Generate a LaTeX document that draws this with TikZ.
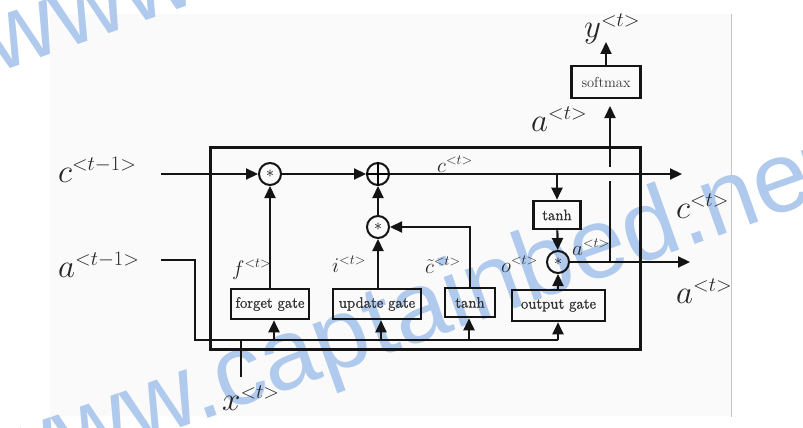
\RequirePackage{fix-cm}
\documentclass[tikz,border=0pt]{standalone}
\usepackage{fontspec}
\newfontfamily\wmfont{Liberation Sans}
\newfontfamily\gatefont{lmroman12-regular.otf}[FakeBold=1.2]
\usetikzlibrary{arrows.meta}
\DeclareMathSizes{33}{33}{20.5}{15}
\DeclareMathSizes{21}{21}{14}{10}
\definecolor{wmblue}{RGB}{176,202,238}
\definecolor{bgc}{RGB}{250,250,250}
\tikzset{
  ln/.style={line width=2.2pt, draw=black!92},
  arr/.style={ln, -{Triangle[length=12pt,width=11pt]}},
  boxln/.style={line width=3pt, draw=black!92},
  gate/.style={draw=black!92, line width=2.6pt, inner sep=0pt, text=black!80,
    font=\gatefont\fontsize{15}{17}\selectfont},
  smbox/.style={gate, font=\fontsize{14.5}{16}\selectfont},
  opc/.style={circle, draw=black!92, line width=2pt, minimum size=22pt, inner sep=0pt,
    font=\fontsize{16}{18}\selectfont},
  big/.style={inner sep=0pt, text=black!85, font=\fontsize{33}{38}\selectfont},
  small/.style={inner sep=0pt, text=black!85, font=\fontsize{21}{24}\selectfont},
  wm/.style={inner sep=0pt, text=wmblue, font=\wmfont\fontsize{100}{105}\selectfont}
}
\begin{document}
\begin{tikzpicture}[x=1pt,y=-1pt]
\useasboundingbox (0,0) rectangle (803,428);
\fill[bgc] (50,14) rectangle (731,416);
\draw[gray!45, line width=0.8pt] (731,14) -- (731,417);
% watermark
\node[wm, rotate=19.6, anchor=base west] (wm1) at (0,492) {www.captainbed.net};
\node[wm, rotate=19.6, anchor=base west] (wm2) at (-4,74) {www.captainbed.net};
% cell box
\draw[boxln] (210,147) rectangle (640,349);
% operators
\node[opc] (m1) at (270,174) {$\ast$};
\node[opc] (pl) at (378,174) {};
\draw[line width=2pt] (pl.north) -- (pl.south) (pl.west) -- (pl.east);
\node[opc] (m2) at (378,227) {$\ast$};
\node[opc] (m3) at (558,262) {$\ast$};
% gates
\node[gate, minimum width=78pt, minimum height=30pt] (fg) at (270,304) {forget gate};
\node[gate, minimum width=88pt, minimum height=30pt] (ug) at (377,304) {update gate};
\node[gate, minimum width=50pt, minimum height=29pt] (th1) at (470,302.5) {tanh};
\node[gate, minimum width=93pt, minimum height=31pt] (og) at (558.5,305.5) {output gate};
\node[gate, minimum width=47pt, minimum height=28pt] (th2) at (557,215) {tanh};
\node[smbox, minimum width=69pt, minimum height=32pt] (sm) at (606,82) {softmax};
% coordinates
\coordinate (cin) at (161,174);
\coordinate (cout) at (682,174);
\coordinate (aout) at (690,262);
\coordinate (ain) at (161,260);
\coordinate (ac1) at (195,260);
\coordinate (ac2) at (195,340);
\coordinate (xin) at (241,377);
\coordinate (xj) at (241,340);
\coordinate (b1) at (274,340);
\coordinate (b2) at (381,340);
\coordinate (b3) at (469,340);
\coordinate (b4) at (558,340);
\coordinate (up0) at (610,262);
\coordinate (gA) at (610,181);
\coordinate (gB) at (610,167);
\coordinate (smin) at (610,106);
\coordinate (ytop) at (608,42);
% connectors
\draw[arr] (cin) -- (m1);
\draw[arr] (m1) -- (pl);
\draw[arr] (pl) -- (cout);
\draw[arr] (th2.north |- pl) -- (th2);
\draw[arr] (th2) -- (m3);
\draw[arr] (m3) -- (aout);
\draw[ln] (m3.east -| up0) -- (gA);
\draw[arr] (gB) -- (smin);
\draw[arr] (sm.north) -- (sm.north |- ytop);
\draw[ln] (ain) -- (ac1) -- (ac2) -- (b4);
\draw[ln] (xin) -- (xj);
\draw[arr] (b1) -- (b1 |- fg.south);
\draw[arr] (b2) -- (b2 |- ug.south);
\draw[arr] (b3) -- (b3 |- th1.south);
\draw[arr] (b4) -- (b4 |- og.south);
\draw[arr] (fg) -- (m1);
\draw[arr] (ug.north -| m2) -- (m2);
\draw[arr] (m2) -- (pl);
\draw[arr] (th1.north) |- (m2);
\draw[arr] (og.north -| m3) -- (m3);
% labels
\node[big, anchor=base west] (lcp) at (58,182) {$c^{<t-1>}$};
\node[big, anchor=base west] (lap) at (58,277) {$a^{<t-1>}$};
\node[big, anchor=base west] (ly) at (584,38) {$y^{<t>}$};
\node[big, anchor=base west] (lat) at (531,131) {$a^{<t>}$};
\node[big, anchor=base west] (lct) at (676,218) {$c^{<t>}$};
\node[big, anchor=base west] (lao) at (676,303) {$a^{<t>}$};
\node[big, anchor=base west] (lx) at (222,410) {$x^{<t>}$};
\node[small, anchor=base west] (lf) at (232,275) {$f^{<t>}$};
\node[small, anchor=base west] (li) at (332,272) {$i^{<t>}$};
\node[small, anchor=base west] (lcc) at (425,273) {$\tilde{c}^{<t>}$};
\node[small, anchor=base west] (lo) at (501,272) {$o^{<t>}$};
\node[small, anchor=base west] (la3) at (572,255) {$a^{<t>}$};
\node[small, anchor=base west] (lc2) at (437,172) {$c^{<t>}$};
\end{tikzpicture}
\end{document}
